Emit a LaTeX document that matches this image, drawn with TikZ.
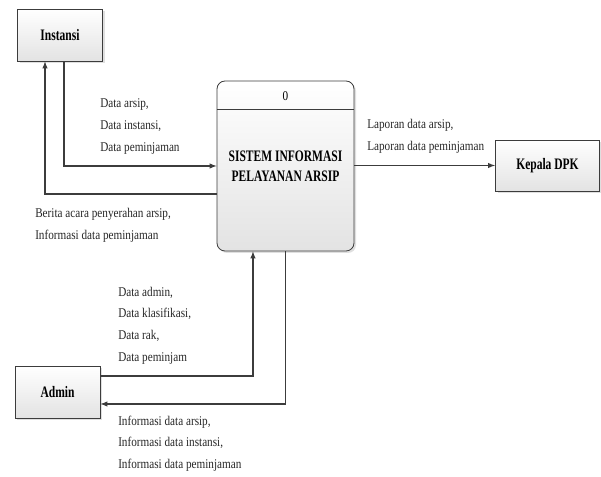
\documentclass[tikz,border=0pt]{standalone}
\usepackage{fontspec}
\setmainfont{Liberation Serif}[FakeStretch=0.84]
\newfontfamily\boxfont{Liberation Serif}[FakeStretch=0.72]
\usepackage{tikz}
\usetikzlibrary{arrows,shadows}
\definecolor{garis}{RGB}{60,60,60}
\tikzset{
	entitas/.style={draw=garis,line width=0.6pt,top color=white,bottom color=gray!22,
		drop shadow={opacity=0.25,shadow xshift=1.5pt,shadow yshift=-1.5pt},
		font=\boxfont\bfseries\fontsize{12}{12}\selectfont},
	proses/.style={entitas,rounded corners=6pt,align=center,
		font=\boxfont\bfseries\fontsize{12}{12}\selectfont},
	alir/.style={draw=garis,line width=0.8pt,-latex},
	ket/.style={anchor=west,inner sep=0pt,align=left,text=black!85,
		font=\fontsize{10}{16.2}\selectfont}
}
\begin{document}
\begin{tikzpicture}[x=0.75pt,y=-0.75pt]
			\useasboundingbox (0,0) rectangle (601,477);
			\node[entitas,minimum width=63.75pt,minimum height=39pt] (inst) at (60,35) {Instansi};
			\node[entitas,minimum width=78pt,minimum height=38.25pt] (kep) at (547.5,165.5) {Kepala DPK};
			\node[entitas,minimum width=63.75pt,minimum height=39pt] (adm) at (57.5,392) {Admin};
			\node[proses,minimum width=102.75pt,minimum height=127.5pt] (proc) at (285.5,166) {SISTEM INFORMASI\\[3pt]PELAYANAN ARSIP};
			\draw[draw=garis,line width=0.6pt] ([yshift=-21.75pt]proc.north west) -- ([yshift=-21.75pt]proc.north east);
			\node[font=\fontsize{10}{10}\selectfont] (nomor) at (285.5,96) {0};
			\draw[alir] ([xshift=3pt]inst.south) |- (proc.west);
			\draw[alir] ([yshift=-21pt]proc.west) -| ([xshift=-11.25pt]inst.south);
			\draw[alir] (kep.west -| proc.east) -- (kep.west);
			\draw[alir] ([yshift=12pt]adm.east) -| ([xshift=-24.4pt]proc.south);
			\draw[alir] (proc.south) |- ([yshift=-9pt]adm.east);
			\node[ket] (k1) at (100,126.5) {Data arsip,\\Data instansi,\\Data peminjaman};
			\node[ket] (k2) at (35,225) {Berita acara penyerahan arsip,\\Informasi data peminjaman};
			\node[ket] (k3) at (367,136) {Laporan data arsip,\\Laporan data peminjaman};
			\node[ket] (k4) at (118,325.5) {Data admin,\\Data klasifikasi,\\Data rak,\\Data peminjam};
			\node[ket] (k5) at (118,443.5) {Informasi data arsip,\\Informasi data instansi,\\Informasi data peminjaman};
		\end{tikzpicture}
\end{document}
